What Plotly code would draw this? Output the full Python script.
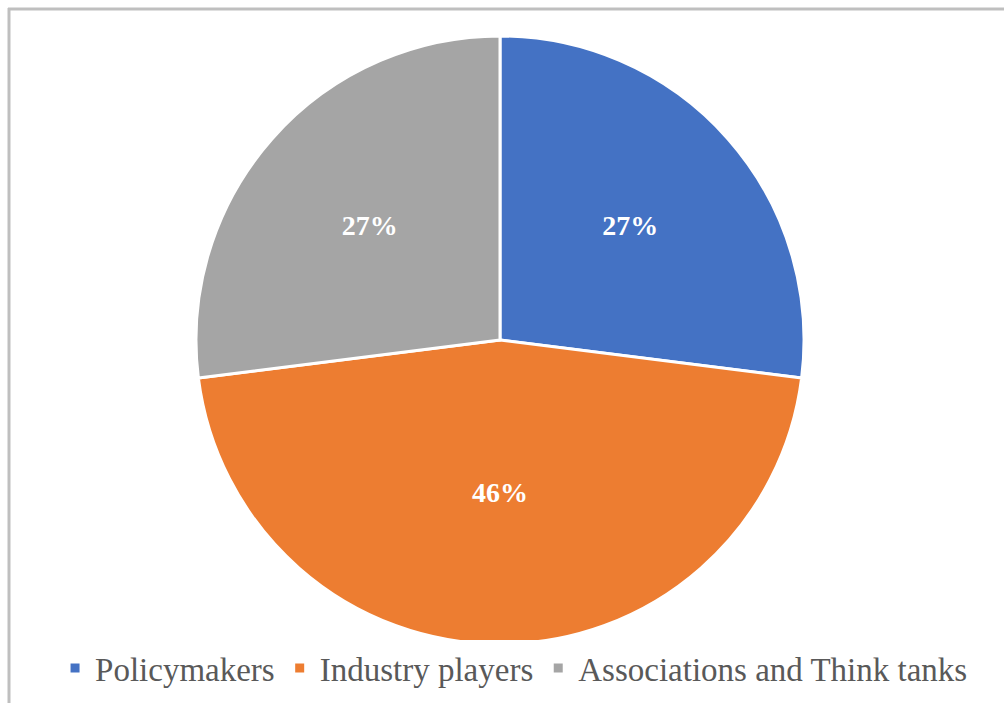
import plotly.graph_objects as go

categories = ["Policymakers", "Industry players", "Associations and Think tanks"]
values = [27, 46, 27]
colors = ["#4472C4", "#ED7D31", "#A5A5A5"]

W, H = 1004, 703
cx, cy, r = 500, 340, 304

SERIF = "Liberation Serif, Times New Roman, serif"

fig = go.Figure(go.Pie(
    labels=categories,
    values=values,
    sort=False,
    direction="clockwise",
    rotation=0,
    marker=dict(colors=colors, line=dict(color="white", width=3)),
    texttemplate="<b>%{percent:.0%}</b>",
    textposition="inside",
    insidetextorientation="horizontal",
    textfont=dict(family=SERIF, size=28, color="white"),
    domain=dict(x=[(cx - r) / W, (cx + r) / W], y=[(H - cy - r) / H, (H - cy + r) / H]),
    hoverinfo="skip",
))

fig.update_layout(
    width=W, height=H,
    margin=dict(l=0, r=0, t=0, b=0),
    paper_bgcolor="white",
    plot_bgcolor="white",
    showlegend=True,
    legend=dict(
        orientation="h",
        x=0.512, xanchor="center",
        y=(H - 668) / H, yanchor="middle",
        font=dict(family=SERIF, size=33, color="#595959"),
        itemwidth=30,
        traceorder="normal",
    ),
    shapes=[
        dict(type="line", xref="paper", yref="paper", x0=8 / W, x1=1, y0=1 - 9 / H, y1=1 - 9 / H,
             line=dict(color="#BFBFBF", width=3)),
        dict(type="line", xref="paper", yref="paper", x0=9 / W, x1=9 / W, y0=0, y1=1 - 8 / H,
             line=dict(color="#BFBFBF", width=3)),
    ],
)

fig.write_html("out.html")
